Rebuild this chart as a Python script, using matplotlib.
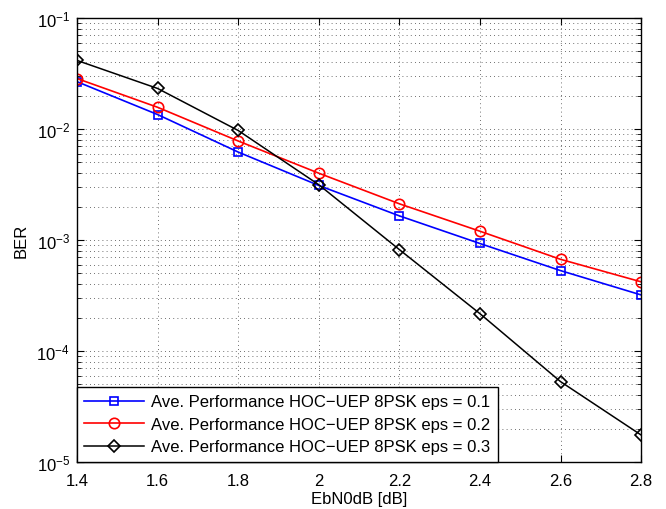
import matplotlib
matplotlib.use('Agg')
import matplotlib.pyplot as plt
from matplotlib.ticker import LogLocator, NullFormatter

plt.rcParams['font.family'] = ['Liberation Sans', 'DejaVu Sans']
plt.rcParams['mathtext.fontset'] = 'custom'
plt.rcParams['mathtext.rm'] = 'Liberation Sans'

ebn0 = [1.4, 1.6, 1.8, 2.0, 2.2, 2.4, 2.6, 2.8]
ber_eps01 = [2.67e-2, 1.35e-2, 6.2e-3, 3.1e-3, 1.65e-3, 9.3e-4, 5.3e-4, 3.2e-4]
ber_eps02 = [2.85e-2, 1.57e-2, 7.8e-3, 4.0e-3, 2.12e-3, 1.2e-3, 6.7e-4, 4.2e-4]
ber_eps03 = [4.15e-2, 2.32e-2, 9.7e-3, 3.15e-3, 8.2e-4, 2.17e-4, 5.3e-5, 1.75e-5]
xtick_labels = ['1.4', '1.6', '1.8', '2', '2.2', '2.4', '2.6', '2.8']
labels = ['Ave. Performance HOC\u2212UEP 8PSK eps = 0.1',
          'Ave. Performance HOC\u2212UEP 8PSK eps = 0.2',
          'Ave. Performance HOC\u2212UEP 8PSK eps = 0.3']

fig = plt.figure(figsize=(6.66, 5.10), dpi=100)
ax = fig.add_axes([0.1156, 0.0922, 0.847, 0.8705])

ax.semilogy(ebn0, ber_eps01, color='blue', marker='s', markersize=6, markerfacecolor='none',
            markeredgewidth=1.2, linewidth=1.2, label=labels[0])
ax.semilogy(ebn0, ber_eps02, color='red', marker='o', markersize=7.5, markerfacecolor='none',
            markeredgewidth=1.2, linewidth=1.2, label=labels[1])
ax.semilogy(ebn0, ber_eps03, color='black', marker='D', markersize=6, markerfacecolor='none',
            markeredgewidth=1.2, linewidth=1.1, label=labels[2])

ax.set_xlim(1.4, 2.8)
ax.set_ylim(1e-5, 1e-1)
ax.set_xticks(ebn0)
ax.set_xticklabels(xtick_labels)
ax.yaxis.set_major_locator(LogLocator(base=10, numticks=10))
ax.yaxis.set_minor_locator(LogLocator(base=10, subs=range(2, 10), numticks=20))
ax.yaxis.set_minor_formatter(NullFormatter())

ax.tick_params(which='both', direction='in', top=True, right=True, labelsize=12)
ax.tick_params(axis='x', pad=8)
ax.tick_params(axis='y', pad=5)
ax.tick_params(which='major', length=5)
ax.tick_params(which='minor', length=3)
ax.grid(True, which='major', linestyle=(0, (1, 4)), color='0.25', linewidth=0.6)
ax.grid(True, which='minor', axis='y', linestyle=(0, (1, 4)), color='0.25', linewidth=0.6)
for s in ax.spines.values():
    s.set_linewidth(1.0)

ax.set_xlabel('EbN0dB [dB]', fontsize=12, labelpad=2)
ax.set_ylabel('BER', fontsize=12, labelpad=6)

leg = ax.legend(loc='lower left', fontsize=12, fancybox=False, edgecolor='black',
                framealpha=1, borderaxespad=0, handlelength=3.6, labelspacing=0.45,
                borderpad=0.45, handletextpad=0.4)
leg.get_frame().set_linewidth(1.0)

fig.savefig('out.png', dpi=100)
